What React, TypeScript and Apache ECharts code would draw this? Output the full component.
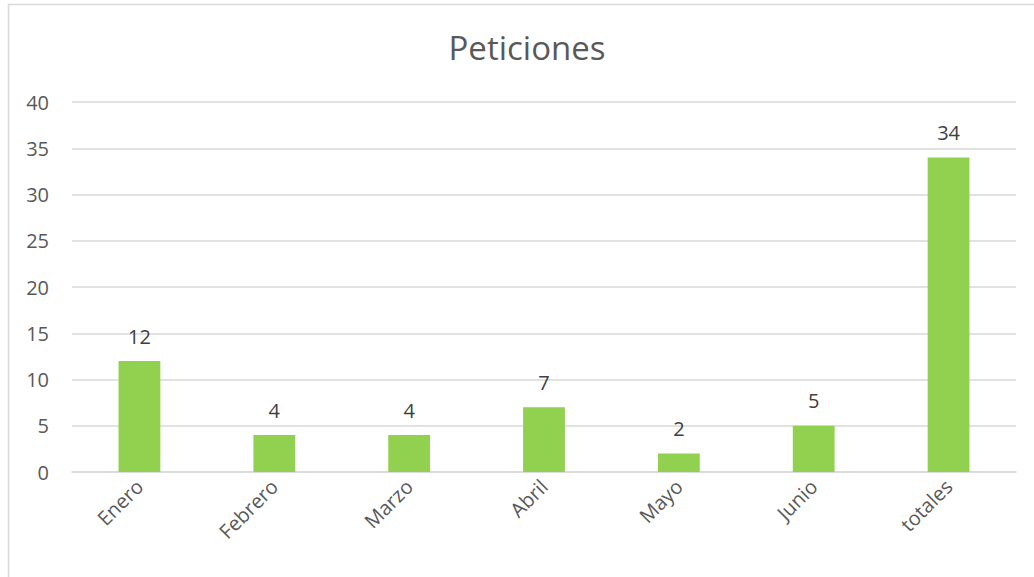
import React, { useEffect, useRef } from "react";
import * as echarts from "echarts";

const categories = ["Enero", "Febrero", "Marzo", "Abril", "Mayo", "Junio", "totales"];
const values = [12, 4, 4, 7, 2, 5, 34];
const titleText = "Peticiones";

export default function App() {
  const ref = useRef<HTMLDivElement>(null);
  useEffect(() => {
    document.body.style.margin = "0";
    const chart = echarts.init(ref.current!, null, { renderer: "svg" });
    const font = "'Open Sans', Carlito, Calibri, sans-serif";
    chart.setOption({
      animation: false,
      backgroundColor: "#ffffff",
      title: {
        text: titleText,
        left: 522,
        top: 26,
        textAlign: "center",
        textStyle: { fontFamily: font, fontSize: 33, fontWeight: "normal", color: "#595959" },
      },
      graphic: [
        {
          type: "rect",
          shape: { x: 8.5, y: 4.5, width: 1100, height: 700 },
          style: { fill: "none", stroke: "#d9d9d9", lineWidth: 1.5 },
          silent: true,
        },
      ],
      grid: { left: 72, right: 18, top: 102, bottom: 105 },
      xAxis: {
        type: "category",
        data: categories,
        axisLine: { show: true, lineStyle: { color: "#d9d9d9", width: 1.5 } },
        axisTick: { show: false },
        axisLabel: {
          rotate: 45,
          margin: 11,
          fontFamily: font,
          fontSize: 20,
          color: "#595959",
          interval: 0,
        },
      },
      yAxis: {
        type: "value",
        min: 0,
        max: 40,
        interval: 5,
        axisLine: { show: false },
        axisTick: { show: false },
        axisLabel: { margin: 23, fontFamily: font, fontSize: 20, color: "#595959" },
        splitLine: { lineStyle: { color: "#d9d9d9", width: 1.5 } },
      },
      series: [
        {
          type: "bar",
          data: values,
          barWidth: "31%",
          itemStyle: { color: "#92d050" },
          label: {
            show: true,
            position: "top",
            distance: 15,
            fontFamily: font,
            fontSize: 20,
            color: "#404040",
          },
        },
      ],
    });
    return () => chart.dispose();
  }, []);
  return (
    <div style={{ position: "absolute", left: 0, top: 0, width: 1034, height: 577 }}>
      <div ref={ref} style={{ width: 1034, height: 577 }} />
    </div>
  );
}
